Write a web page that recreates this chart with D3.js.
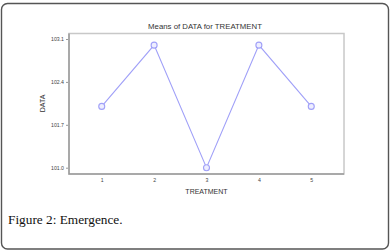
<!DOCTYPE html>
<html><head><meta charset="utf-8">
<script src="https://cdn.jsdelivr.net/npm/d3@7"></script>
<style>html,body{margin:0;padding:0;background:#fff;}svg{display:block;}</style>
</head><body>
<script>
const treatments = [1, 2, 3, 4, 5];
const means = [102.0, 103.0, 101.0, 103.0, 102.0];
const yTicks = [101.0, 101.7, 102.4, 103.1];
const title = "Means of DATA for TREATMENT";
const xTitle = "TREATMENT";
const yTitle = "DATA";
const caption = "Figure 2: Emergence.";

const W = 392, H = 252;
const svg = d3.select("body").append("svg").attr("width", W).attr("height", H);

svg.append("rect").attr("x", 1.5).attr("y", 3.5).attr("width", 387).attr("height", 245.5)
  .attr("rx", 6).attr("fill", "#fff").attr("stroke", "#555").attr("stroke-width", 1.4);

const box = {l: 69, t: 33.5, r: 344, b: 174};
const x = d3.scaleLinear().domain([0.375, 5.625]).range([box.l, box.r]);
const y = d3.scaleLinear().domain([100.897, 103.19]).range([box.b, box.t]);

// plot frame
svg.append("rect").attr("x", box.l).attr("y", box.t).attr("width", box.r - box.l).attr("height", box.b - box.t)
  .attr("fill", "none").attr("stroke", "#c8c8c8").attr("stroke-width", 1.5);
svg.append("path").attr("d", `M${box.l},${box.t}V${box.b}H${box.r}`)
  .attr("fill", "none").attr("stroke", "#9a9a9a").attr("stroke-width", 1.5);

const font = "'Liberation Sans', Arial, sans-serif";

const yAxis = svg.append("g").attr("transform", `translate(${box.l - 1},0)`)
  .call(d3.axisLeft(y).tickValues(yTicks).tickFormat(d3.format(".1f")).tickSize(2).tickPadding(2));
yAxis.select(".domain").remove();
yAxis.selectAll("line").attr("stroke", "#999");
yAxis.selectAll("text").attr("font-family", font).attr("font-size", 5.2).attr("fill", "#444");

const xAxis = svg.append("g").attr("transform", `translate(0,${box.b + 1})`)
  .call(d3.axisBottom(x).tickValues(treatments).tickFormat(d3.format("d")).tickSize(0).tickPadding(3));
xAxis.select(".domain").remove();
xAxis.selectAll("text").attr("font-family", font).attr("font-size", 5.2).attr("fill", "#444");

const line = d3.line().x((d, i) => x(treatments[i])).y(d => y(d));
svg.append("path").datum(means).attr("d", line)
  .attr("fill", "none").attr("stroke", "#a0a0f8").attr("stroke-width", 1.1);
svg.selectAll("circle.pt").data(means).enter().append("circle")
  .attr("cx", (d, i) => x(treatments[i])).attr("cy", d => y(d)).attr("r", 3)
  .attr("fill", "#eeeeff").attr("stroke", "#a0a0f8").attr("stroke-width", 1.1);

svg.append("text").attr("x", 205).attr("y", 28.5).attr("text-anchor", "middle")
  .attr("font-family", font).attr("font-size", 7.8).attr("fill", "#333").text(title);
svg.append("text").attr("x", 206.5).attr("y", 193.5).attr("text-anchor", "middle")
  .attr("font-family", font).attr("font-size", 7).attr("fill", "#333").text(xTitle);
svg.append("text").attr("transform", "translate(45,103.5) rotate(-90)").attr("text-anchor", "middle")
  .attr("font-family", font).attr("font-size", 7).attr("fill", "#333").text(yTitle);

svg.append("text").attr("x", 8).attr("y", 223.5)
  .attr("font-family", "'Liberation Serif', 'Times New Roman', serif").attr("font-size", 13.3).attr("fill", "#111").text(caption);
</script>
</body></html>
